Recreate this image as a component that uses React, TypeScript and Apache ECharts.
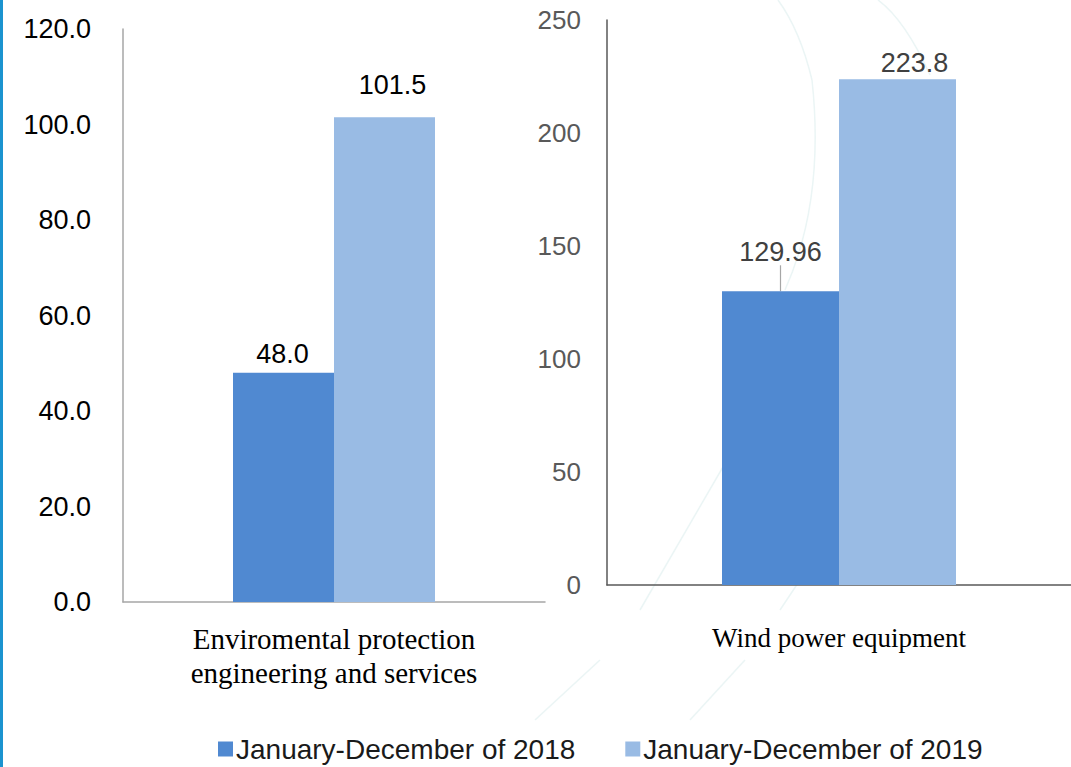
import React, { useEffect, useRef } from "react";
import * as echarts from "echarts";

const leftCategories = ["Enviromental protection\nengineering and services"];
const rightCategories = ["Wind power equipment"];
const seriesNames = ["January-December of 2018", "January-December of 2019"];
const left2018 = [48.0];
const left2019 = [101.5];
const right2018 = [129.96];
const right2019 = [223.8];
const leftTicks = { min: 0, max: 120, interval: 20 };
const rightTicks = { min: 0, max: 250, interval: 50 };

const DARK = "#5089d1";
const LIGHT = "#99bbe4";

export default function App() {
  const ref = useRef<HTMLDivElement>(null);
  useEffect(() => {
    document.body.style.margin = "0";
    const chart = echarts.init(ref.current!, null, { renderer: "svg" });
    const faint = { stroke: "#ebf5f5", lineWidth: 1.5, fill: "none" };
    chart.setOption({
      animation: false,
      backgroundColor: "#ffffff",
      graphic: [
        { type: "rect", left: 0, top: 0, shape: { x: 0, y: 0, width: 3, height: 767 }, style: { fill: "#1b93cf" }, z: 10 },
        { type: "bezierCurve", shape: { x1: 778, y1: 0, x2: 812, y2: 80, cpx1: 800, cpy1: 30 }, style: faint, z: -1 },
        { type: "bezierCurve", shape: { x1: 812, y1: 80, x2: 785, y2: 290, cpx1: 825, cpy1: 200 }, style: faint, z: -1 },
        { type: "bezierCurve", shape: { x1: 878, y1: 0, x2: 930, y2: 75, cpx1: 905, cpy1: 20 }, style: faint, z: -1 },
        { type: "line", shape: { x1: 727, y1: 460, x2: 640, y2: 610 }, style: faint, z: -1 },
        { type: "line", shape: { x1: 800, y1: 580, x2: 780, y2: 610 }, style: faint, z: -1 },
        { type: "line", shape: { x1: 600, y1: 660, x2: 535, y2: 720 }, style: faint, z: -1 },
        { type: "line", shape: { x1: 745, y1: 660, x2: 690, y2: 720 }, style: faint, z: -1 },
      ],
      legend: {
        left: 213,
        top: 730,
        itemGap: 50,
        itemWidth: 15,
        itemHeight: 15,
        icon: "rect",
        data: seriesNames,
        textStyle: { fontFamily: "Liberation Sans", fontSize: 28, color: "#1a1a1a", padding: [0, 0, 0, -2] },
      },
      grid: [
        { left: 123, top: 29, width: 422, height: 573 },
        { left: 607, top: 20, width: 464, height: 565 },
      ],
      xAxis: [
        {
          type: "category",
          gridIndex: 0,
          data: leftCategories,
          axisLine: { lineStyle: { color: "#a6a6a6", width: 1.5 } },
          axisTick: { show: false },
          axisLabel: { fontFamily: "Liberation Serif", fontSize: 29, color: "#000", lineHeight: 34, margin: 20 },
        },
        {
          type: "category",
          gridIndex: 1,
          data: rightCategories,
          axisLine: { lineStyle: { color: "#595959", width: 1.5 } },
          axisTick: { show: false },
          axisLabel: { fontFamily: "Liberation Serif", fontSize: 27, color: "#000", lineHeight: 34, margin: 36 },
        },
      ],
      yAxis: [
        {
          type: "value",
          gridIndex: 0,
          ...leftTicks,
          splitLine: { show: false },
          axisLine: { show: true, lineStyle: { color: "#a6a6a6", width: 1.5 } },
          axisTick: { show: false },
          axisLabel: { formatter: (v: number) => v.toFixed(1), fontFamily: "Liberation Sans", fontSize: 27, color: "#000", margin: 32 },
        },
        {
          type: "value",
          gridIndex: 1,
          ...rightTicks,
          splitLine: { show: false },
          axisLine: { show: true, lineStyle: { color: "#595959", width: 1.5 } },
          axisTick: { show: false },
          axisLabel: { fontFamily: "Liberation Sans", fontSize: 26, color: "#595959", margin: 26 },
        },
      ],
      series: [
        {
          name: seriesNames[0],
          type: "bar",
          xAxisIndex: 0,
          yAxisIndex: 0,
          data: left2018,
          barWidth: 101,
          barGap: "0%",
          itemStyle: { color: DARK },
          label: { show: true, position: "top", distance: 5, formatter: (p: any) => p.value.toFixed(1), fontFamily: "Liberation Sans", fontSize: 27, color: "#000", offset: [-1, 0] },
        },
        {
          name: seriesNames[1],
          type: "bar",
          xAxisIndex: 0,
          yAxisIndex: 0,
          data: left2019,
          barWidth: 101,
          barGap: "0%",
          itemStyle: { color: LIGHT },
          label: { show: true, position: "top", distance: 19, formatter: (p: any) => p.value.toFixed(1), fontFamily: "Liberation Sans", fontSize: 27, color: "#000", offset: [8, 0] },
        },
        {
          name: seriesNames[0],
          type: "bar",
          xAxisIndex: 1,
          yAxisIndex: 1,
          data: right2018,
          barWidth: 117,
          barGap: "0%",
          itemStyle: { color: DARK },
          label: { show: true, position: "top", distance: 4, fontFamily: "Liberation Sans", fontSize: 27, color: "#404040" },
          labelLayout: { dy: -22 },
          labelLine: { show: true, lineStyle: { color: "#a6a6a6", width: 1.2 } },
        },
        {
          name: seriesNames[1],
          type: "bar",
          xAxisIndex: 1,
          yAxisIndex: 1,
          data: right2019,
          barWidth: 117,
          barGap: "0%",
          itemStyle: { color: LIGHT },
          label: { show: true, position: "top", distance: 3, fontFamily: "Liberation Sans", fontSize: 27, color: "#404040", offset: [17, 0] },
        },
      ],
    });
    return () => chart.dispose();
  }, []);
  return <div ref={ref} style={{ width: 1071, height: 767 }} />;
}
